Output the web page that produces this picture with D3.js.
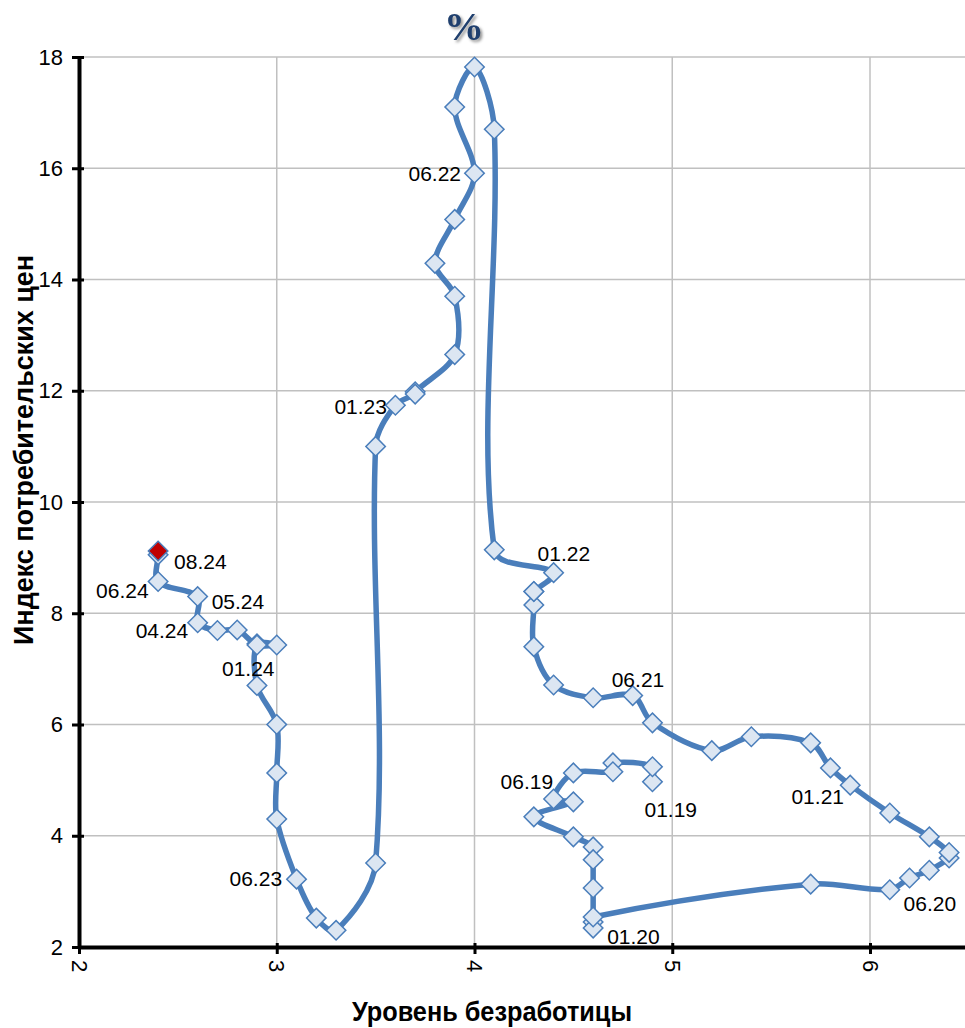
<!DOCTYPE html>
<html>
<head>
<meta charset="utf-8">
<script src="https://cdn.jsdelivr.net/npm/d3@7"></script>
<style>
  body { margin: 0; background: #fff; }
  svg { display: block; font-family: "Liberation Sans", Arial, sans-serif; }
</style>
</head>
<body>
<script>
// months, unemployment rate (%), CPI y/y (%)
var dates = [
  "01.19","02.19","03.19","04.19","05.19","06.19","07.19","08.19","09.19","10.19","11.19","12.19",
  "01.20","02.20","03.20","04.20","05.20","06.20","07.20","08.20","09.20","10.20","11.20","12.20",
  "01.21","02.21","03.21","04.21","05.21","06.21","07.21","08.21","09.21","10.21","11.21","12.21",
  "01.22","02.22","03.22","04.22","05.22","06.22","07.22","08.22","09.22","10.22","11.22","12.22",
  "01.23","02.23","03.23","04.23","05.23","06.23","07.23","08.23","09.23","10.23","11.23","12.23",
  "01.24","02.24","03.24","04.24","05.24","06.24","07.24","08.24"
];

var unemployment = [
  4.9, 4.9, 4.7, 4.7, 4.5, 4.4, 4.5, 4.3, 4.5, 4.6, 4.6, 4.6,
  4.6, 4.6, 4.6, 5.7, 6.1, 6.2, 6.3, 6.4, 6.4, 6.3, 6.1, 5.9,
  5.8, 5.7, 5.4, 5.2, 4.9, 4.8, 4.6, 4.4, 4.3, 4.3, 4.3, 4.3,
  4.4, 4.1, 4.1, 4.0, 3.9, 4.0, 3.9, 3.8, 3.9, 3.9, 3.7, 3.7,
  3.6, 3.5, 3.5, 3.3, 3.2, 3.1, 3.0, 3.0, 3.0, 2.9, 2.9, 3.0,
  2.9, 2.8, 2.7, 2.6, 2.6, 2.4, 2.4, 2.4
];

var cpi = [
  4.97, 5.24, 5.31, 5.15, 5.13, 4.66, 4.61, 4.34, 3.98, 3.80, 3.57, 3.06,
  2.45, 2.34, 2.54, 3.13, 3.03, 3.24, 3.38, 3.60, 3.70, 3.98, 4.41, 4.91,
  5.22, 5.67, 5.78, 5.53, 6.03, 6.52, 6.48, 6.71, 7.40, 8.15, 8.39, 8.39,
  8.73, 9.14, 16.70, 17.82, 17.10, 15.91, 15.08, 14.29, 13.70, 12.65, 11.98, 11.94,
  11.74, 11.00, 3.51, 2.30, 2.52, 3.22, 4.30, 5.13, 6.00, 6.70, 7.45, 7.43,
  7.43, 7.70, 7.69, 7.83, 8.30, 8.57, 9.05, 9.12
];

var xTicks = [2, 3, 4, 5, 6];
var yTicks = [2, 4, 6, 8, 10, 12, 14, 16, 18];

var labelled = ["01.19","06.19","01.20","06.20","01.21","06.21","01.22","06.22",
                "01.23","06.23","01.24","04.24","05.24","06.24","08.24"];

// label offsets from the point (left edge, baseline)
var labelPos = {
  "01.19": [-8, 35], "06.19": [-53, -10], "01.20": [14, 22], "06.20": [-6, 33],
  "01.21": [-39, 36], "06.21": [-21, -9], "01.22": [-16, -12], "06.22": [-66, 8],
  "01.23": [-61, 9], "06.23": [-67, 7], "01.24": [-35, 31], "04.24": [-62, 15],
  "05.24": [14, 12], "06.24": [-62, 16], "08.24": [16, 18]
};

var width = 965, height = 1028;
var plotLeft = 79, plotRight = 965, plotTop = 57, plotBottom = 947;

var x = d3.scaleLinear().domain([2, 2 + (plotRight - plotLeft) / 197.75]).range([plotLeft, plotRight]);
var y = d3.scaleLinear().domain([2, 18]).range([plotBottom, plotTop]);

var data = dates.map(function(d, i) { return { date: d, u: unemployment[i], p: cpi[i] }; });

// smoothing like a spreadsheet "smoothed line": bezier with tangents
// weighted by neighbouring segment lengths (no loops on short hops)
function smoothCurve(context) {
  var pts;
  function dist(a, b) { return Math.hypot(b[0] - a[0], b[1] - a[1]); }
  return {
    areaStart: function() {},
    areaEnd: function() {},
    lineStart: function() { pts = []; },
    point: function(px, py) { pts.push([+px, +py]); },
    lineEnd: function() {
      var n = pts.length;
      if (!n) return;
      context.moveTo(pts[0][0], pts[0][1]);
      for (var i = 0; i < n - 1; i++) {
        var p0 = pts[Math.max(i - 1, 0)], p1 = pts[i], p2 = pts[i + 1], p3 = pts[Math.min(i + 2, n - 1)];
        var d01 = dist(p0, p1), d12 = dist(p1, p2), d23 = dist(p2, p3);
        var w1 = d01 + d12 > 0 ? d12 / (d01 + d12) : 0;
        var w2 = d12 + d23 > 0 ? d12 / (d12 + d23) : 0;
        context.bezierCurveTo(
          p1[0] + (p2[0] - p0[0]) * w1 / 3, p1[1] + (p2[1] - p0[1]) * w1 / 3,
          p2[0] - (p3[0] - p1[0]) * w2 / 3, p2[1] - (p3[1] - p1[1]) * w2 / 3,
          p2[0], p2[1]);
      }
    }
  };
}

var svg = d3.select("body").append("svg")
    .attr("width", width)
    .attr("height", height);

// grid
svg.append("g")
  .selectAll("line")
    .data(xTicks.slice(1))
  .enter().append("line")
    .attr("x1", function(d) { return x(d); })
    .attr("x2", function(d) { return x(d); })
    .attr("y1", plotTop)
    .attr("y2", plotBottom)
    .style("stroke", "#c0c0c0")
    .style("stroke-width", 1.5);

svg.append("g")
  .selectAll("line")
    .data(yTicks.slice(1))
  .enter().append("line")
    .attr("x1", plotLeft)
    .attr("x2", plotRight)
    .attr("y1", function(d) { return y(d); })
    .attr("y2", function(d) { return y(d); })
    .style("stroke", "#c0c0c0")
    .style("stroke-width", 1.5);

// axes
var yAxis = svg.append("g")
    .attr("transform", "translate(" + plotLeft + ",0)")
    .call(d3.axisLeft(y).tickValues(yTicks).tickFormat(d3.format("d"))
      .tickSizeOuter(0).tickSizeInner(7).tickPadding(9));
yAxis.select(".domain").style("stroke", "#000").style("stroke-width", 4);
yAxis.selectAll(".tick line").attr("x1", 5).style("stroke", "#000").style("stroke-width", 3);
yAxis.selectAll(".tick text").style("font-size", "22px").style("fill", "#000")
    .style("font-family", "'Liberation Sans', Arial, sans-serif");

var xAxis = svg.append("g")
    .attr("transform", "translate(0," + plotBottom + ")")
    .call(d3.axisBottom(x).tickValues(xTicks).tickFormat(d3.format("d"))
      .tickSizeOuter(0).tickSizeInner(7));
xAxis.select(".domain").style("stroke", "#000").style("stroke-width", 4);
xAxis.selectAll(".tick line").attr("y1", -4).style("stroke", "#000").style("stroke-width", 3);
xAxis.selectAll(".tick text")
    .attr("transform", "rotate(90)")
    .attr("x", 13)
    .attr("y", 0)
    .attr("dy", "0.36em")
    .style("text-anchor", "start")
    .style("font-size", "22px").style("fill", "#000")
    .style("font-family", "'Liberation Sans', Arial, sans-serif");

// line
var line = d3.line()
    .x(function(d) { return x(d.u); })
    .y(function(d) { return y(d.p); })
    .curve(smoothCurve);

svg.append("path")
    .datum(data)
    .attr("d", line)
    .style("fill", "none")
    .style("stroke", "#4a7ebb")
    .style("stroke-width", 5.5)
    .style("stroke-linejoin", "round");

// markers
var diamond = d3.symbol().type(d3.symbolSquare).size(190);

svg.append("g")
  .selectAll("path")
    .data(data)
  .enter().append("path")
    .attr("d", diamond)
    .attr("transform", function(d) { return "translate(" + x(d.u) + "," + y(d.p) + ") rotate(45)"; })
    .style("fill", function(d, i) { return i === data.length - 1 ? "#c00000" : "#dce6f2"; })
    .style("stroke", "#4a7ebb")
    .style("stroke-width", 1.5);

// data labels
svg.append("g")
  .selectAll("text")
    .data(data.filter(function(d) { return labelled.indexOf(d.date) >= 0; }))
  .enter().append("text")
    .attr("x", function(d) { return x(d.u) + labelPos[d.date][0]; })
    .attr("y", function(d) { return y(d.p) + labelPos[d.date][1]; })
    .style("font-size", "21px")
    .style("fill", "#000")
    .text(function(d) { return d.date; });

// titles
svg.append("text")
    .attr("x", 464)
    .attr("y", 40)
    .attr("text-anchor", "middle")
    .style("font-family", "'Liberation Serif', 'Times New Roman', serif")
    .style("font-weight", "bold")
    .style("font-size", "40px")
    .style("fill", "#1f3f6e")
    .style("filter", "drop-shadow(2px 2px 1.5px rgba(0,0,0,0.45))")
    .text("%");

svg.append("text")
    .attr("x", 492)
    .attr("y", 1021)
    .attr("text-anchor", "middle")
    .attr("textLength", 280)
    .attr("lengthAdjust", "spacingAndGlyphs")
    .style("font-weight", "bold")
    .style("font-size", "27px")
    .text("Уровень безработицы");

svg.append("text")
    .attr("transform", "translate(33,450) rotate(-90)")
    .attr("text-anchor", "middle")
    .attr("textLength", 390)
    .attr("lengthAdjust", "spacingAndGlyphs")
    .style("font-weight", "bold")
    .style("font-size", "28px")
    .text("Индекс потребительских  цен");
</script>
</body>
</html>
